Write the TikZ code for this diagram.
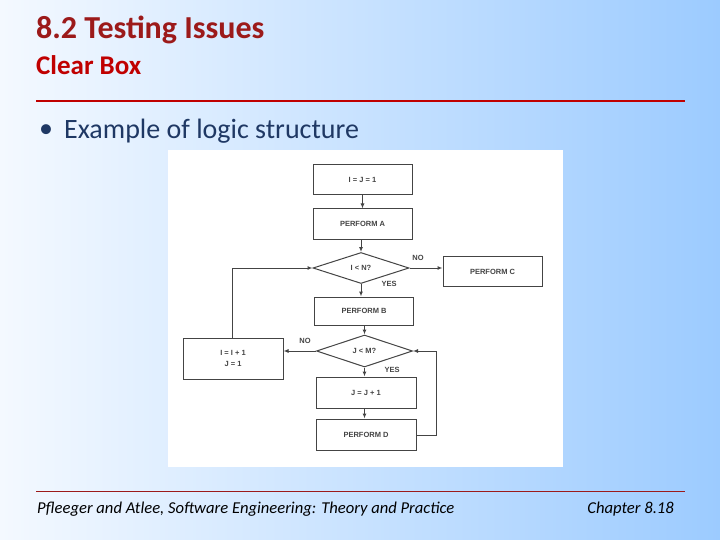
\documentclass[tikz,border=0pt]{standalone}
\usetikzlibrary{shapes.geometric,arrows.meta}
\usepackage{fontspec}
\setmainfont{Carlito}
\newfontfamily\fcfont{Liberation Sans}
\definecolor{titlered}{HTML}{9C1A1A}
\definecolor{subred}{HTML}{C00000}
\definecolor{bulletblue}{HTML}{1F3864}
\definecolor{bgL}{HTML}{F4F9FF}
\definecolor{bgR}{HTML}{9CCBFF}
\definecolor{fcline}{HTML}{444444}
\begin{document}
\begin{tikzpicture}[x=1pt,y=-1pt,
  fcbox/.style={draw=fcline,line width=1pt,minimum width=99pt,minimum height=30pt,inner sep=0pt,font=\fcfont\bfseries\fontsize{7.5}{9}\selectfont,text=fcline,align=center},
  fcdia/.style={draw=fcline,line width=1pt,shape=diamond,aspect=3,minimum width=96pt,minimum height=31pt,inner sep=0pt,font=\fcfont\bfseries\fontsize{7.5}{9}\selectfont,text=fcline},
  fcarr/.style={draw=fcline,line width=1pt,-{Latex[length=5pt,width=4pt]}},
  fclab/.style={font=\fcfont\bfseries\fontsize{7.5}{9}\selectfont,text=fcline}]
\useasboundingbox (0,0) rectangle (720,540);
\shade[left color=bgL,right color=bgR] (0,0) rectangle (720,540);
\fill[white] (168,150) rectangle (563,467);
% header
\node[anchor=west,text=titlered,font=\fontsize{32}{36}\selectfont\bfseries,inner sep=0pt] (title) at (36,30) {8.2 Testing Issues};
\node[anchor=west,text=subred,font=\fontsize{27}{30}\selectfont\bfseries,inner sep=0pt] (sub) at (36,65) {Clear Box};
\draw[subred,line width=1.2pt] (36,101) -- (685,101);
\node[anchor=west,text=bulletblue,font=\fontsize{28}{32}\selectfont,inner sep=0pt] (bul) at (64,131) {Example of logic structure};
\node[anchor=center,text=bulletblue,font=\fontsize{28}{32}\selectfont,inner sep=0pt] (dot) at (46,131) {\textbullet};
% flowchart
\node[fcbox] (b1) at (362.5,180) {I = J = 1};
\node[fcbox] (b2) at (362.5,224) {PERFORM A};
\node[fcdia] (d1) at (361,268) {I < N?};
\node[fcbox] (bc) at (492.5,271.5) {PERFORM C};
\node[fcbox,minimum height=28pt] (bb) at (364,311) {PERFORM B};
\node[fcdia,minimum height=32pt] (d2) at (364.5,351) {J < M?};
\node[fcbox,minimum width=100pt,minimum height=41pt,align=center] (bi) at (233,358.5) {I = I + 1\\[2pt]J = 1};
\node[fcbox,minimum width=100pt,minimum height=31pt] (bj) at (366,392.5) {J = J + 1};
\node[fcbox,minimum width=100pt,minimum height=31pt] (bd) at (366,434.5) {PERFORM D};
\draw[fcarr] (b1) -- (b2);
\draw[fcarr] (b2.south -| d1.north) -- (d1.north);
\draw[fcarr] (d1.east) -- (bc.west |- d1.east);
\draw[fcarr] (d1.south) -- (bb.north -| d1.south);
\draw[fcarr] (bb.south -| d2.north) -- (d2.north);
\draw[fcarr] (d2.west) -- (bi.east |- d2.west);
\draw[fcarr] (d2.south) -- (bj.north -| d2.south);
\draw[fcarr] (bj.south -| d2.south) -- (bd.north -| d2.south);
\coordinate (rl) at (436,435);
\draw[fcarr] (bd.east |- rl) -- (rl) -- (rl |- d2.east) -- (d2.east);
\coordinate (ll) at (232,268);
\draw[fcarr] (bi.north -| ll) -- (ll) -- (d1.west);
\node[fclab] (no1) at (418,258) {NO};
\node[fclab] (yes1) at (389,284) {YES};
\node[fclab] (no2) at (305,341) {NO};
\node[fclab] (yes2) at (392,370) {YES};
% footer
\draw[titlered,line width=0.6pt] (36,491) -- (685,491);
\node[anchor=west,font=\fontsize{16.6}{19}\selectfont\itshape,inner sep=0pt] (f1) at (37,509) {Pfleeger and Atlee, Software Engineering: Theory and Practice};
\node[anchor=east,font=\fontsize{16.6}{19}\selectfont\itshape,inner sep=0pt] (f2) at (674,509) {Chapter 8.18};
\end{tikzpicture}
\end{document}
